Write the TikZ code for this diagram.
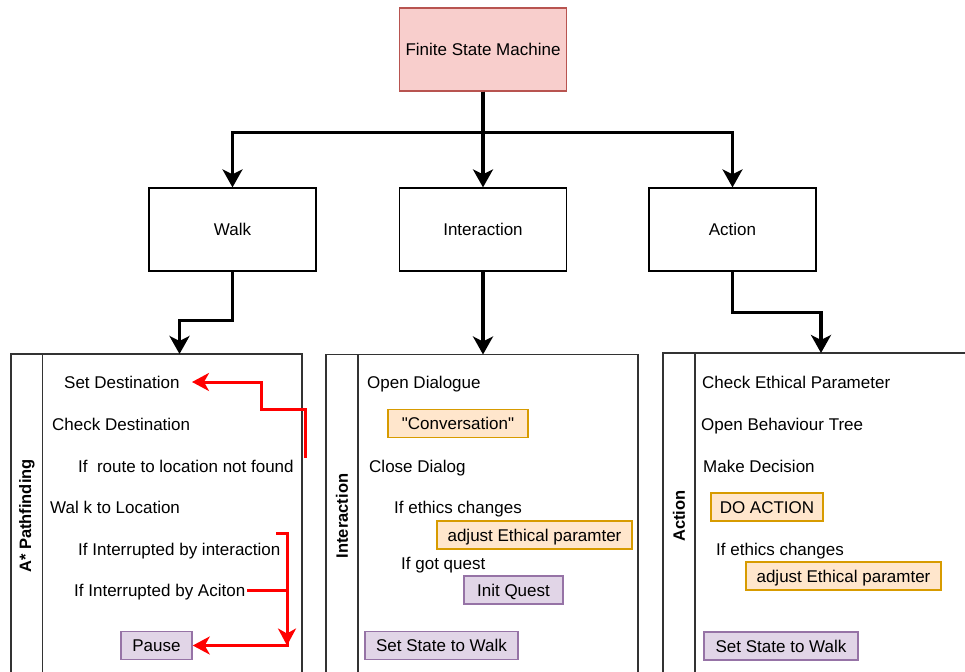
\documentclass[tikz,border=0pt]{standalone}
\usepackage{fontspec}
\setmainfont{Liberation Sans}
% same face without the TeX ligature mapping, for straight quotes
\newfontfamily\plainsans{Liberation Sans}
\usetikzlibrary{arrows.meta}

\definecolor{fsmfill}{HTML}{F8CECC}
\definecolor{fsmline}{HTML}{B85450}
\definecolor{orfill}{HTML}{FFE6CC}
\definecolor{orline}{HTML}{D79B00}
\definecolor{pufill}{HTML}{E1D5E7}
\definecolor{puline}{HTML}{9673A6}
\definecolor{laneline}{HTML}{333333}

\tikzset{
  statebox/.style={draw=black, line width=1.2pt, fill=white, minimum width=167pt, minimum height=83pt, inner sep=0pt, text height=12.2pt, text depth=0pt},
  fsmbox/.style={statebox, draw=fsmline, fill=fsmfill},
  flow/.style={draw=black, line width=3.5pt, -{Stealth[length=18pt, width=20pt, inset=5pt]}},
  redflow/.style={draw=red, line width=3pt, -{Stealth[length=17pt, width=18pt, inset=5pt]}},
  lanebox/.style={draw=laneline, line width=1.5pt},
  lanetitle/.style={rotate=90, font=\fontsize{16.5}{19}\selectfont\bfseries, inner sep=0pt},
  txt/.style={anchor=base west, inner sep=0pt},
  tagbox/.style={line width=1.5pt, minimum height=28pt, inner sep=0pt, text height=12.2pt, text depth=0pt},
  obox/.style={tagbox, draw=orline, fill=orfill},
  pbox/.style={tagbox, draw=puline, fill=pufill},
}

\begin{document}
\begin{tikzpicture}[x=1pt, y=-1pt, font=\fontsize{17}{20}\selectfont]
\useasboundingbox (0,0) rectangle (965,671);
\clip (0,0) rectangle (965,671);
\fill[white] (0,0) rectangle (965,671);

% top level states
\node[fsmbox] (fsm) at (483,49.5) {Finite State Machine};
\node[statebox] (walk) at (232.5,229.5) {Walk};
\node[statebox] (inter) at (483,229.5) {Interaction};
\node[statebox] (act) at (732.5,229.5) {Action};

% swimlane containers
\draw[lanebox] (11,354) rectangle (302,700);
\draw[lanebox] (42.5,354) -- (42.5,700);
\node[lanetitle] (tA) at (27,516) {A* Pathfinding};

\draw[lanebox] (326,354.5) rectangle (638,700);
\draw[lanebox] (358,354.5) -- (358,700);
\node[lanetitle] (tI) at (342,516) {Interaction};

\draw[lanebox] (663,353) rectangle (1000,700);
\draw[lanebox] (695,353) -- (695,700);
\node[lanetitle] (tC) at (679,516) {Action};

\coordinate (inA) at (179.5,354);
\coordinate (inI) at (483,354.5);
\coordinate (inC) at (821,353);

% state transitions
\draw[flow] (fsm.south) -- ++(0,41) -| (walk.north);
\draw[flow] (fsm.south) -- ++(0,41) -| (act.north);
\draw[flow] (fsm.south) -- (inter.north);
\draw[flow] (walk.south) -- ++(0,49) -| (inA);
\draw[flow] (inter.south) -- (inI);
\draw[flow] (act.south) -- ++(0,41) -| (inC);

% A* pathfinding steps (baseline = row centre + 6.5)
\node[txt] (sd) at (64,388.5) {Set Destination};
\node[txt] (cd) at (52,430) {Check Destination};
\node[txt] (nf) at (78,472) {If\ \ route to location not found};
\node[txt] (wl) at (50,513.5) {Wal k to Location};
\node[txt] (ii) at (78,555.5) {If Interrupted by interaction};
\node[txt] (ia) at (74,596.5) {If Interrupted by Aciton};
\node[pbox, minimum width=71pt] (pause) at (156.5,645.5) {Pause};

\coordinate (nfout) at (305.5,458);
\coordinate (iiout) at (276,533);
\coordinate (iaout) at (247,590);
\coordinate (sdin) at (192,382);
\draw[redflow] (nfout) -- (305.5,409) -- (261,409) -- (261,382) -- (sdin);
\draw[redflow] (iiout) -- (287,533) |- (pause.east);
\draw[redflow] (iaout) -| (287,645.5);

% interaction steps
\node[txt] (od) at (367,388.5) {Open Dialogue};
\node[obox, minimum width=140pt] (conv) at (458,423.5) {{\plainsans"}Conversation{\plainsans"}};
\node[txt] (cdl) at (369,472.5) {Close Dialog};
\node[txt] (ie1) at (394,513.5) {If ethics changes};
\node[obox, minimum width=195pt] (adj1) at (534.5,535) {adjust Ethical paramter};
\node[txt] (gq) at (401,569.5) {If got quest};
\node[pbox, minimum width=99pt] (iq) at (513.5,590) {Init Quest};
\node[pbox, minimum width=153pt] (ssw1) at (441.5,645.5) {Set State to Walk};

% action steps
\node[txt] (cep) at (702,388.5) {Check Ethical Parameter};
\node[txt] (obt) at (701,430.5) {Open Behaviour Tree};
\node[txt] (md) at (703,472) {Make Decision};
\node[obox, minimum width=112pt] (doa) at (767,507) {DO ACTION};
\node[txt] (ie2) at (716,555.5) {If ethics changes};
\node[obox, minimum width=195pt] (adj2) at (843.5,576) {adjust Ethical paramter};
\node[pbox, minimum width=154pt] (ssw2) at (781,646) {Set State to Walk};
\end{tikzpicture}
\end{document}
